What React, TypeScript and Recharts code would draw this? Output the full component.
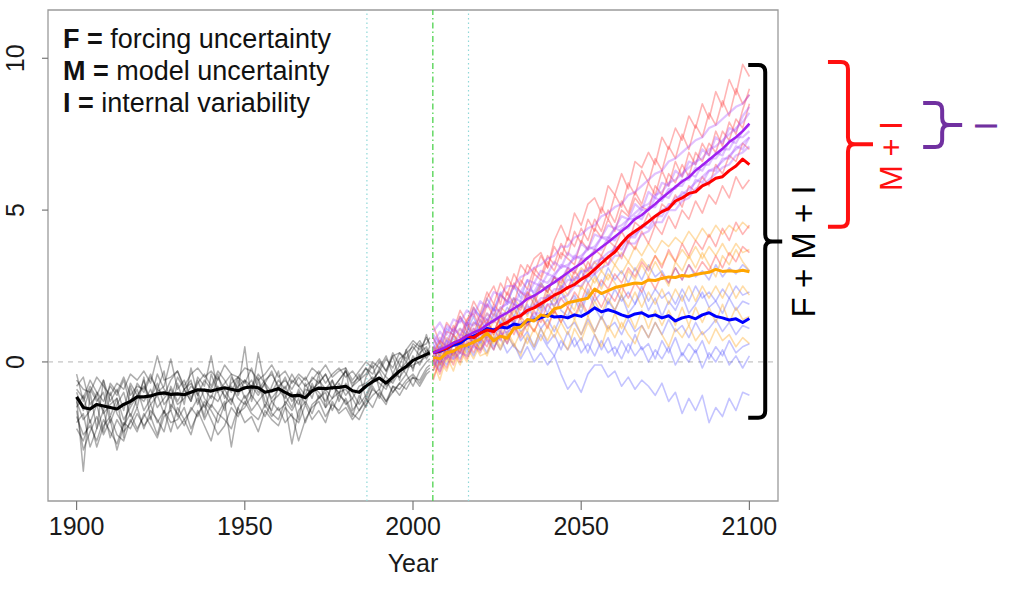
import React from 'react';
import { LineChart, Line, XAxis, YAxis, ReferenceLine, ReferenceArea, ReferenceDot } from 'recharts';

const FONT = '"Liberation Sans", Arial, Helvetica, sans-serif';

// ---------- axes ----------
const X_DOMAIN: [number, number] = [1891.5, 2108.5];
const Y_DOMAIN: [number, number] = [-4.58, 11.59];
const X_TICKS = [1900, 1950, 2000, 2050, 2100];
const Y_TICKS = [0, 5, 10];

// ---------- categories (years) ----------
const HIST_YEARS = [1900, 1902, 1904, 1906, 1908, 1910, 1912, 1914, 1916, 1918, 1920, 1922, 1924, 1926, 1928, 1930, 1932, 1934, 1936, 1938, 1940, 1942, 1944, 1946, 1948, 1950, 1952, 1954, 1956, 1958, 1960, 1962, 1964, 1966, 1968, 1970, 1972, 1974, 1976, 1978, 1980, 1982, 1984, 1986, 1988, 1990, 1992, 1994, 1996, 1998, 2000, 2002, 2004, 2005];
const FUTURE_YEARS = [2006, 2008, 2010, 2012, 2014, 2016, 2018, 2020, 2022, 2024, 2026, 2028, 2030, 2032, 2034, 2036, 2038, 2040, 2042, 2044, 2046, 2048, 2050, 2052, 2054, 2056, 2058, 2060, 2062, 2064, 2066, 2068, 2070, 2072, 2074, 2076, 2078, 2080, 2082, 2084, 2086, 2088, 2090, 2092, 2094, 2096, 2098, 2100];

// ---------- historical ----------
const HIST_MEAN = [-1.15, -1.5, -1.55, -1.4, -1.45, -1.5, -1.55, -1.4, -1.3, -1.15, -1.15, -1.12, -1.05, -1.02, -1.07, -1.05, -1.08, -1.0, -0.92, -0.93, -0.96, -0.9, -0.85, -0.9, -0.95, -0.85, -0.82, -0.85, -1.0, -0.95, -0.88, -1.0, -1.12, -1.1, -1.18, -0.95, -0.86, -0.88, -0.85, -0.84, -0.8, -0.95, -1.0, -0.8, -0.65, -0.53, -0.7, -0.5, -0.3, -0.15, 0.05, 0.15, 0.25, 0.3];
const HIST_1 = [-0.6, -0.9, -1.0, -0.5, -0.8, -1.1, -0.7, -0.9, -0.4, -0.6, -0.3, -0.7, 0.2, -0.6, -0.5, -0.3, -0.8, -0.4, -0.2, -0.5, -0.3, -0.6, -0.1, -0.4, -0.5, -0.2, -0.3, -0.6, -0.4, -0.1, -0.5, -0.3, -0.7, -0.4, -0.6, -0.2, -0.4, -0.1, -0.5, -0.3, -0.2, -0.6, -0.3, 0.0, -0.2, 0.1, -0.3, 0.2, 0.3, 0.1, 0.6, 0.4, 0.8, 0.6];
const HIST_2 = [-1.8, -2.4, -2.1, -2.6, -1.9, -2.3, -2.7, -2.0, -2.2, -1.7, -2.1, -1.8, -2.4, -1.6, -2.0, -1.9, -1.5, -2.2, -1.7, -1.4, -1.9, -2.4, -2.1, -1.5, -1.8, -1.3, -1.7, -1.9, -1.4, -1.8, -1.5, -2.0, -1.7, -2.6, -1.9, -1.5, -1.3, -1.8, -1.4, -1.6, -1.2, -1.7, -1.9, -1.4, -1.1, -0.9, -1.3, -1.0, -0.7, -0.9, -0.5, -0.6, -0.2, -0.1];
const HIST_3 = [-1.2, -3.6, -1.0, -2.2, -0.6, -1.8, -1.2, -2.5, -0.8, -1.5, -0.5, -1.9, -0.9, -0.3, -1.6, -0.7, -1.4, -0.2, -1.1, -1.8, -0.4, -1.0, -1.6, -0.5, -0.9, 0.5, -1.3, -0.6, -1.5, -0.8, -0.3, -1.4, -1.0, -1.9, -0.7, -1.2, -0.4, -1.5, -0.6, -1.1, -0.2, -1.6, -1.3, -0.5, -0.1, -0.9, -0.4, 0.2, -0.6, 0.4, -0.3, 0.6, 0.1, 0.3];
const HIST_4 = [-1.5, -1.1, -2.0, -1.4, -2.3, -1.0, -1.7, -2.1, -1.3, -0.9, -1.6, -1.2, -0.7, -1.4, -1.1, -1.8, -0.9, -1.3, -0.6, -1.2, -1.5, -0.8, -1.1, -1.4, -0.6, -1.2, -0.9, -0.5, -1.3, -1.6, -0.8, -1.1, -1.5, -0.9, -1.4, -0.7, -1.2, -0.9, -0.6, -1.3, -0.7, -1.0, -1.4, -1.1, -0.6, -0.3, -0.8, -0.6, -0.1, -0.4, 0.2, -0.1, 0.4, 0.3];
const HIST_5 = [-0.4, -1.3, -0.8, -1.2, -1.6, -0.7, -1.0, -0.5, -1.1, -0.8, -0.9, -0.4, -1.0, -0.8, 0.1, -0.9, -0.6, -1.2, -0.7, -0.4, -0.8, -0.3, -0.6, -1.0, -0.5, -0.7, -0.2, -0.9, -0.6, -0.4, -0.8, -0.6, -0.9, -0.5, -0.8, -0.6, -0.3, -0.7, -0.4, -0.2, -0.5, -0.3, -0.6, -0.4, 0.0, -0.2, 0.2, -0.4, 0.1, 0.3, 0.5, 0.2, 0.9, 0.5];
const HIST_6 = [-2.0, -1.7, -2.8, -2.2, -1.6, -2.5, -1.9, -2.3, -2.0, -1.5, -2.2, -1.6, -1.9, -2.3, -1.4, -1.7, -2.1, -1.5, -1.8, -1.3, -1.6, -2.0, -1.4, -1.2, -1.7, -1.5, -1.1, -1.4, -1.8, -1.3, -1.6, -1.4, -2.7, -1.6, -1.3, -1.7, -1.1, -1.5, -1.2, -1.0, -1.4, -1.2, -1.6, -1.3, -0.9, -1.1, -1.4, -0.8, -0.9, -0.6, -0.4, -0.7, -0.3, -0.2];
const HIST_7 = [-1.0, -1.6, -0.9, -1.3, -1.0, -2.0, -1.4, -1.0, -1.8, -1.2, -0.6, -1.4, -1.1, -1.7, -0.8, -1.3, -0.9, -0.6, -1.4, -0.9, -1.2, -0.5, -0.9, -1.3, -0.8, -0.6, -1.1, 0.3, -0.8, -1.2, -0.9, -0.5, -1.1, -1.4, -0.9, -1.0, -0.6, -0.9, -1.2, -0.7, -1.1, -0.8, -0.4, -1.2, -0.7, -0.2, -0.5, -0.7, -0.3, 0.0, -0.2, 0.3, 0.5, 0.2];
const HIST_8 = [-1.6, -2.9, -2.3, -1.8, -2.4, -1.9, -2.9, -2.1, -1.7, -2.2, -1.8, -1.4, -2.0, -1.6, -2.3, -1.5, -1.9, -1.6, -1.2, -1.9, -1.4, -1.7, -1.3, -2.8, -1.5, -1.1, -1.6, -1.3, -1.0, -1.7, -1.9, -1.3, -1.6, -1.2, -2.0, -1.4, -1.2, -1.0, -1.6, -1.1, -1.3, -1.8, -1.1, -1.5, -0.8, -1.2, -0.6, -1.0, -0.7, -0.4, -0.8, -0.3, 0.0, 0.1];
const HIST_9 = [-0.8, -0.5, -1.4, -1.1, -0.6, -1.3, -0.9, -1.6, -0.7, -1.1, -0.8, -1.2, -0.4, -0.9, -1.2, -0.5, -0.9, -1.3, -0.5, -0.8, 0.2, -1.0, -0.7, -0.4, -1.1, -0.6, -0.8, -0.4, -0.7, -1.0, -0.6, -0.9, -0.4, -0.8, -1.1, -0.5, -0.7, -0.4, -0.9, -0.6, -0.3, -0.7, -0.5, -0.2, -0.6, -0.3, 0.1, -0.2, 0.3, 0.0, 0.4, 0.7, 0.3, 0.5];
const HIST_10 = [-1.3, -1.9, -1.6, -1.0, -1.7, -1.4, -1.2, -1.9, -1.5, -1.1, -1.3, -0.9, -1.5, -1.2, -0.9, -1.4, -1.2, -0.8, -1.0, -1.5, -1.1, -1.3, -0.9, -0.8, -1.2, -1.4, -0.8, -1.1, -0.7, -1.3, -1.1, -0.8, -1.3, -1.0, -1.2, -0.8, -1.0, -1.3, -0.8, -1.0, -0.9, -1.2, -0.8, -0.7, -0.5, -0.7, -0.9, -0.4, -0.5, -0.2, -0.1, 0.0, 0.2, 0.4];
const HIST_11 = [-2.2, -2.6, -1.9, -2.8, -2.1, -1.8, -2.4, -2.6, -1.9, -2.3, -1.7, -2.1, -2.5, -1.8, -1.6, -2.2, -1.9, -2.4, -1.6, -2.1, -2.6, -1.7, -1.9, -2.2, -1.5, -2.0, -1.8, -2.3, -1.6, -1.9, -2.1, -1.5, -1.8, -2.0, -1.4, -1.9, -1.6, -2.0, -1.3, -1.7, -1.5, -1.9, -1.6, -1.2, -1.5, -1.0, -1.3, -0.8, -1.1, -0.7, -0.5, -0.8, -0.4, -0.3];
const HIST_12 = [-0.9, -1.2, -0.6, -1.0, -1.3, -0.8, -1.1, -0.6, -1.4, -0.7, -1.0, -0.5, -0.9, -1.1, -0.6, -0.3, -0.9, -0.7, -1.1, -0.6, -0.9, -0.4, -1.2, -0.7, -0.5, -0.9, -0.6, -1.0, -0.7, -0.3, -0.9, -1.2, -0.6, -0.8, -0.5, -0.9, -0.7, -0.4, -0.9, -0.6, -0.3, -0.8, -0.6, -0.2, -0.4, 0.0, -0.3, 0.3, -0.1, 0.4, 0.7, 0.5, 0.6, 0.8];
const HIST_MEMBERS = [HIST_1, HIST_2, HIST_3, HIST_4, HIST_5, HIST_6, HIST_7, HIST_8, HIST_9, HIST_10, HIST_11, HIST_12];

// ---------- projections: ensemble means ----------
const PURPLE_MEAN = [0.30, 0.40, 0.50, 0.62, 0.72, 0.85, 0.97, 1.06, 1.22, 1.36, 1.50, 1.62, 1.76, 1.90, 2.08, 2.18, 2.32, 2.48, 2.62, 2.78, 2.94, 3.10, 3.24, 3.44, 3.60, 3.78, 3.94, 4.12, 4.30, 4.48, 4.70, 4.84, 5.02, 5.20, 5.40, 5.58, 5.76, 5.94, 6.08, 6.30, 6.48, 6.66, 6.84, 7.02, 7.24, 7.40, 7.60, 7.85];
const RED_MEAN = [0.30, 0.38, 0.45, 0.62, 0.70, 0.85, 0.80, 0.95, 1.05, 1.00, 1.20, 1.30, 1.45, 1.52, 1.70, 1.78, 1.92, 2.05, 2.20, 2.30, 2.45, 2.55, 2.72, 2.85, 3.05, 3.25, 3.45, 3.62, 3.90, 4.15, 4.30, 4.45, 4.62, 4.80, 4.95, 5.05, 5.30, 5.40, 5.55, 5.60, 5.80, 5.90, 6.05, 6.10, 6.30, 6.45, 6.68, 6.50];
const ORANGE_MEAN = [0.15, 0.10, 0.30, 0.35, 0.50, 0.55, 0.65, 0.75, 0.95, 0.70, 0.85, 0.78, 1.10, 1.15, 1.40, 1.35, 1.55, 1.50, 1.75, 1.80, 1.95, 2.00, 2.05, 2.10, 2.40, 2.25, 2.35, 2.45, 2.50, 2.55, 2.60, 2.58, 2.70, 2.68, 2.75, 2.80, 2.78, 2.85, 2.82, 2.88, 2.92, 2.95, 3.05, 2.98, 3.00, 2.98, 3.02, 2.97];
const BLUE_MEAN = [0.30, 0.35, 0.45, 0.55, 0.62, 0.78, 0.85, 0.95, 1.10, 1.05, 1.15, 1.12, 1.25, 1.20, 1.35, 1.38, 1.45, 1.55, 1.48, 1.50, 1.45, 1.55, 1.50, 1.62, 1.78, 1.65, 1.72, 1.65, 1.55, 1.48, 1.58, 1.62, 1.50, 1.55, 1.45, 1.52, 1.35, 1.45, 1.50, 1.42, 1.55, 1.62, 1.50, 1.45, 1.38, 1.42, 1.30, 1.43];

// ---------- projections: ensemble members ----------
const RED_1 = [0.8, 0.3, 1.0, 0.9, 1.5, 1.0, 1.8, 1.3, 2.1, 2.5, 1.9, 2.8, 2.4, 3.2, 2.9, 3.4, 3.6, 3.1, 4.0, 4.5, 4.0, 4.9, 4.5, 5.2, 5.4, 4.9, 5.8, 5.5, 6.2, 5.7, 6.6, 6.4, 6.9, 6.5, 7.4, 7.0, 7.7, 7.3, 8.1, 7.7, 8.5, 8.0, 8.9, 8.4, 9.3, 8.8, 9.8, 9.4];
const RED_2 = [0.2, 0.7, 0.5, 1.2, 0.8, 1.4, 1.6, 1.1, 1.9, 1.5, 2.2, 2.0, 2.6, 2.3, 2.1, 2.9, 2.7, 3.3, 3.0, 3.6, 3.4, 3.2, 4.0, 3.7, 4.4, 4.1, 4.7, 4.3, 5.0, 4.8, 5.4, 5.1, 5.0, 5.8, 5.5, 6.2, 5.9, 6.5, 6.1, 6.9, 6.6, 7.2, 6.9, 7.6, 7.3, 8.0, 7.7, 8.5];
const RED_3 = [-0.3, 0.4, 0.1, 0.6, 0.3, 0.9, 0.6, 1.2, 1.4, 0.9, 1.6, 1.3, 1.9, 1.7, 2.3, 1.9, 2.5, 2.3, 2.8, 2.6, 3.1, 2.9, 3.4, 3.0, 3.7, 3.5, 4.0, 3.8, 4.3, 3.9, 4.6, 4.4, 4.9, 4.5, 5.2, 5.0, 5.5, 5.1, 5.8, 5.6, 6.1, 5.8, 6.5, 6.2, 6.8, 6.6, 7.2, 7.0];
const RED_4 = [0.5, -0.1, 0.6, 0.2, 0.8, 0.5, 1.1, 0.7, 1.3, 1.0, 1.5, 1.2, 1.8, 1.4, 2.0, 2.2, 1.8, 2.5, 2.2, 2.8, 2.4, 3.0, 2.7, 3.3, 2.9, 3.5, 3.2, 3.8, 3.4, 4.0, 3.7, 4.3, 3.9, 4.5, 4.2, 4.8, 4.4, 5.0, 4.7, 5.3, 4.9, 5.5, 5.2, 5.8, 5.4, 6.1, 5.7, 6.0];
const RED_5 = [-0.6, 0.1, -0.2, 0.4, 0.0, 0.7, 0.3, 0.8, 0.5, 1.1, 0.7, 1.3, 0.9, 1.5, 1.2, 1.7, 1.3, 1.9, 1.6, 2.1, 1.8, 2.3, 2.0, 2.6, 2.2, 2.7, 2.4, 2.9, 2.6, 3.1, 2.8, 3.3, 3.0, 3.5, 3.1, 3.7, 3.3, 3.9, 3.5, 4.0, 3.7, 4.2, 3.8, 4.4, 4.0, 4.6, 4.2, 4.5];
const RED_6 = [0.1, -0.4, 0.3, -0.1, 0.5, 0.1, 0.6, 0.3, 0.8, 0.4, 1.0, 0.6, 1.2, 0.8, 1.3, 1.0, 1.5, 1.1, 1.7, 1.3, 1.8, 1.5, 2.0, 1.6, 2.2, 1.8, 2.3, 2.0, 2.5, 2.1, 2.6, 2.3, 2.8, 2.4, 2.9, 2.6, 3.1, 2.7, 3.2, 2.9, 3.3, 3.0, 3.5, 3.1, 3.6, 3.3, 3.8, 3.6];
const RED_7 = [1.2, 0.6, 1.3, 1.0, 1.7, 1.3, 2.0, 1.6, 2.3, 1.9, 2.6, 2.2, 2.9, 2.5, 3.2, 2.9, 3.5, 3.1, 3.8, 3.4, 4.1, 3.8, 4.4, 4.0, 4.7, 4.3, 5.0, 4.6, 5.3, 4.9, 5.6, 5.2, 5.9, 5.5, 6.3, 5.8, 6.6, 6.1, 6.9, 6.5, 7.2, 6.8, 7.6, 7.1, 7.9, 7.5, 8.3, 9.0];
const RED_8 = [0.0, 0.5, 0.3, 0.9, 0.6, 1.3, 0.9, 1.6, 1.2, 1.9, 1.6, 2.3, 1.9, 2.7, 2.4, 3.1, 2.8, 3.5, 3.2, 3.9, 3.5, 4.3, 3.9, 4.7, 4.3, 5.1, 4.7, 5.5, 5.1, 5.9, 5.5, 6.3, 5.9, 6.7, 6.3, 7.1, 6.7, 7.5, 7.0, 7.8, 7.4, 8.2, 7.8, 8.6, 8.1, 9.0, 8.5, 8.8];
const RED_MEMBERS = [RED_1, RED_2, RED_3, RED_4, RED_5, RED_6, RED_7, RED_8];

const PURPLE_1 = [0.9, 0.6, 1.2, 1.0, 1.4, 1.2, 1.7, 1.5, 1.9, 1.7, 2.2, 2.0, 2.5, 2.3, 2.7, 2.6, 3.0, 2.9, 3.3, 3.1, 3.6, 3.4, 3.9, 3.7, 4.2, 4.1, 4.5, 4.4, 4.8, 4.7, 5.2, 5.0, 5.6, 5.4, 5.9, 5.8, 6.3, 6.1, 6.6, 6.5, 7.0, 6.8, 7.4, 7.2, 7.7, 7.6, 8.1, 8.4];
const PURPLE_2 = [0.4, 0.8, 0.5, 0.9, 1.1, 0.9, 1.3, 1.2, 1.6, 1.4, 1.8, 1.9, 2.1, 2.0, 2.4, 2.3, 2.7, 2.6, 2.9, 3.1, 3.2, 3.4, 3.5, 3.7, 3.8, 4.1, 4.1, 4.4, 4.5, 4.7, 4.9, 5.1, 5.2, 5.5, 5.6, 5.9, 6.0, 6.2, 6.4, 6.6, 6.7, 7.0, 7.1, 7.3, 7.5, 7.7, 7.9, 8.2];
const PURPLE_3 = [-0.1, 0.2, 0.1, 0.4, 0.3, 0.6, 0.5, 0.9, 0.8, 1.1, 1.0, 1.4, 1.3, 1.6, 1.6, 1.9, 1.8, 2.2, 2.1, 2.5, 2.4, 2.8, 2.7, 3.1, 3.1, 3.4, 3.4, 3.8, 3.7, 4.1, 4.1, 4.5, 4.4, 4.8, 4.8, 5.2, 5.2, 5.6, 5.5, 6.0, 5.9, 6.3, 6.3, 6.7, 6.7, 7.1, 7.0, 7.4];
const PURPLE_4 = [0.0, -0.3, 0.2, 0.1, 0.3, 0.2, 0.5, 0.4, 0.7, 0.7, 0.9, 1.0, 1.1, 1.3, 1.3, 1.6, 1.6, 1.9, 1.9, 2.1, 2.2, 2.5, 2.5, 2.8, 2.9, 3.1, 3.2, 3.5, 3.5, 3.9, 3.9, 4.2, 4.3, 4.6, 4.6, 5.0, 5.0, 5.3, 5.4, 5.7, 5.8, 6.0, 6.2, 6.4, 6.5, 6.8, 6.9, 7.1];
const PURPLE_5 = [1.0, 1.3, 0.9, 1.4, 1.3, 1.7, 1.5, 2.0, 1.8, 2.3, 2.2, 2.5, 2.5, 2.8, 2.9, 3.1, 3.2, 3.4, 3.5, 3.8, 3.8, 4.1, 4.2, 4.4, 4.5, 4.8, 4.9, 5.1, 5.2, 5.5, 5.6, 5.8, 6.0, 6.2, 6.3, 6.6, 6.7, 6.9, 7.1, 7.3, 7.4, 7.7, 7.8, 8.0, 8.2, 8.4, 8.5, 8.8];
const PURPLE_6 = [0.5, 0.3, 0.7, 0.6, 0.9, 0.8, 1.1, 1.0, 1.4, 1.3, 1.6, 1.6, 1.9, 1.8, 2.2, 2.1, 2.5, 2.4, 2.8, 2.7, 3.1, 3.0, 3.4, 3.4, 3.7, 3.7, 4.1, 4.0, 4.4, 4.4, 4.8, 4.7, 5.1, 5.1, 5.5, 5.4, 5.8, 5.8, 6.2, 6.1, 6.5, 6.5, 6.9, 6.8, 7.3, 7.2, 7.6, 7.8];
const PURPLE_7 = [0.6, 1.0, 0.7, 1.1, 0.9, 1.3, 1.2, 1.5, 1.4, 1.7, 1.7, 2.0, 1.9, 2.3, 2.2, 2.6, 2.5, 2.9, 2.8, 3.2, 3.1, 3.5, 3.4, 3.8, 3.7, 4.1, 4.0, 4.4, 4.3, 4.7, 4.7, 5.0, 5.0, 5.4, 5.3, 5.7, 5.7, 6.0, 6.0, 6.4, 6.3, 6.7, 6.7, 7.0, 7.0, 7.4, 7.4, 7.6];
const PURPLE_8 = [0.2, 0.0, 0.4, 0.3, 0.6, 0.5, 0.8, 0.7, 1.0, 1.0, 1.2, 1.3, 1.5, 1.5, 1.8, 1.8, 2.1, 2.1, 2.4, 2.4, 2.7, 2.7, 3.0, 3.0, 3.3, 3.4, 3.6, 3.7, 3.9, 4.1, 4.2, 4.4, 4.6, 4.8, 5.0, 5.1, 5.4, 5.5, 5.7, 5.9, 6.1, 6.3, 6.4, 6.6, 6.8, 7.0, 7.2, 7.4];
const PURPLE_MEMBERS = [PURPLE_1, PURPLE_2, PURPLE_3, PURPLE_4, PURPLE_5, PURPLE_6, PURPLE_7, PURPLE_8];

const ORANGE_1 = [0.5, 0.2, 0.8, 0.6, 1.1, 0.8, 1.3, 1.1, 1.6, 1.3, 1.8, 1.6, 2.1, 1.8, 2.3, 2.1, 2.6, 2.3, 2.8, 2.5, 3.0, 2.7, 3.1, 2.9, 3.3, 3.0, 3.5, 3.2, 3.6, 3.3, 3.8, 3.5, 3.9, 3.6, 4.0, 3.8, 4.1, 3.9, 4.3, 4.0, 4.4, 4.1, 4.5, 4.2, 4.5, 4.3, 4.6, 4.4];
const ORANGE_2 = [-0.2, 0.3, 0.0, 0.6, 0.3, 0.9, 0.6, 1.2, 0.8, 1.4, 1.1, 1.6, 1.3, 1.9, 1.5, 2.1, 1.8, 2.3, 2.0, 2.5, 2.2, 2.7, 2.4, 2.9, 2.6, 3.0, 2.7, 3.2, 2.9, 3.3, 3.0, 3.4, 3.1, 3.5, 3.2, 3.6, 3.3, 3.7, 3.4, 3.8, 3.4, 3.8, 3.5, 3.9, 3.5, 3.9, 3.6, 3.7];
const ORANGE_3 = [0.1, -0.3, 0.4, 0.0, 0.6, 0.2, 0.7, 0.4, 0.9, 0.6, 1.1, 0.7, 1.2, 0.9, 1.4, 1.0, 1.5, 1.2, 1.7, 1.3, 1.8, 1.4, 1.9, 1.5, 2.0, 1.6, 2.1, 1.7, 2.2, 1.8, 2.3, 1.8, 2.3, 1.9, 2.4, 1.9, 2.4, 2.0, 2.5, 2.0, 2.5, 2.1, 2.5, 2.1, 2.6, 2.1, 2.5, 2.2];
const ORANGE_4 = [-0.5, 0.0, -0.3, 0.3, -0.1, 0.5, 0.1, 0.6, 0.2, 0.8, 0.4, 0.9, 0.5, 1.0, 0.6, 1.1, 0.7, 1.2, 0.8, 1.3, 0.9, 1.4, 0.9, 1.5, 1.0, 1.5, 1.0, 1.6, 1.1, 1.6, 1.1, 1.7, 1.1, 1.7, 1.2, 1.7, 1.2, 1.8, 1.2, 1.8, 1.3, 1.8, 1.3, 1.9, 1.3, 1.8, 1.4, 1.5];
const ORANGE_5 = [0.3, 0.7, 0.2, 0.9, 0.5, 1.0, 0.7, 0.4, 1.2, 0.9, 1.5, 1.1, 1.7, 1.4, 1.0, 1.9, 1.6, 2.2, 1.8, 2.4, 2.0, 1.7, 2.5, 2.2, 2.8, 2.4, 2.9, 2.6, 2.2, 3.0, 2.7, 3.2, 2.8, 3.3, 2.9, 2.5, 3.3, 3.0, 3.5, 3.1, 3.6, 3.2, 2.8, 3.5, 3.2, 3.7, 3.3, 3.0];
const ORANGE_6 = [0.0, -0.6, 0.2, -0.3, 0.4, 0.0, 0.6, 0.2, 0.3, 0.9, 0.5, 1.0, 0.6, 0.2, 0.9, 0.5, 1.1, 0.7, 1.2, 0.8, 0.4, 1.1, 0.7, 1.3, 0.9, 0.5, 1.2, 0.8, 1.3, 0.9, 0.6, 1.2, 0.8, 1.3, 0.9, 0.5, 1.1, 0.8, 1.2, 0.7, 1.0, 0.6, 1.1, 0.7, 0.9, 0.5, 0.8, 0.6];
const ORANGE_MEMBERS = [ORANGE_1, ORANGE_2, ORANGE_3, ORANGE_4, ORANGE_5, ORANGE_6];

const BLUE_1 = [0.8, 0.4, 1.1, 0.9, 1.5, 1.2, 1.8, 1.5, 2.1, 1.7, 2.3, 1.9, 2.5, 2.1, 2.7, 2.2, 2.6, 2.3, 2.8, 2.4, 2.9, 2.5, 3.0, 2.6, 2.9, 2.5, 3.1, 2.7, 3.0, 2.6, 3.1, 2.7, 3.2, 2.8, 3.0, 2.6, 3.1, 2.7, 3.2, 2.8, 3.0, 2.7, 3.2, 2.8, 3.1, 2.9, 3.2, 3.0];
const BLUE_2 = [0.1, 0.6, 0.3, 0.9, 0.6, 1.2, 0.8, 1.4, 1.0, 1.6, 1.3, 1.8, 1.5, 2.0, 1.6, 2.1, 1.7, 2.2, 1.8, 2.3, 1.9, 2.2, 1.8, 2.4, 2.0, 2.3, 1.9, 2.4, 2.0, 2.3, 1.9, 2.5, 2.0, 2.4, 2.1, 2.3, 1.9, 2.4, 2.0, 2.5, 2.1, 2.3, 2.0, 2.4, 2.1, 2.5, 2.2, 2.3];
const BLUE_3 = [0.4, -0.1, 0.5, 0.2, 0.7, 0.4, 0.9, 0.6, 1.1, 0.7, 1.3, 0.9, 1.4, 1.0, 1.2, 1.5, 1.1, 1.4, 1.0, 1.5, 1.1, 1.3, 0.9, 1.4, 1.0, 1.5, 1.1, 1.3, 0.9, 1.4, 1.0, 1.2, 0.8, 1.3, 0.9, 1.4, 1.0, 1.2, 0.8, 1.3, 0.9, 1.1, 1.4, 1.0, 1.3, 0.9, 1.2, 1.1];
const BLUE_4 = [-0.3, 0.2, -0.1, 0.4, 0.1, 0.6, 0.2, 0.7, 0.3, 0.8, 0.4, 0.9, 0.5, 0.3, 0.8, 0.4, 0.9, 0.5, 0.2, 0.7, 0.4, 0.8, 0.3, 0.6, 0.2, 0.7, 0.3, 0.5, 0.1, 0.6, 0.2, 0.5, 0.0, 0.4, 0.1, 0.5, -0.1, 0.3, 0.0, 0.4, -0.2, 0.3, 0.0, 0.4, -0.1, 0.2, -0.2, 0.2];
const BLUE_5 = [0.2, -0.2, 0.5, 0.1, 0.7, 0.3, 0.8, 0.4, 0.9, 0.5, 0.8, 0.3, 0.6, 0.1, 0.5, 0.0, 0.3, -0.1, 0.2, -0.4, -0.9, -0.6, -1.0, -0.4, -0.1, -0.1, -0.5, -0.3, -0.8, -0.5, -0.9, -0.6, -0.8, -1.1, -0.7, -1.3, -1.0, -1.7, -1.2, -1.6, -1.1, -2.0, -1.5, -1.8, -1.2, -1.6, -1.0, -1.1];
const BLUE_6 = [0.6, 0.2, 0.7, 0.3, 0.5, 1.0, 0.6, 1.1, 0.7, 0.4, 1.0, 0.6, 1.2, 0.7, 1.0, 0.5, 1.1, 0.6, 0.9, 0.4, 1.0, 0.5, 0.8, 0.3, 0.9, 0.4, 0.8, 0.2, 0.7, 0.3, 0.9, 0.4, 0.6, 0.1, 0.7, 0.3, 0.8, 0.2, 0.6, 0.3, 0.7, 0.1, 0.5, 0.2, 0.7, 0.3, 0.5, 0.6];
const BLUE_7 = [0.0, 0.5, 0.2, 0.8, 0.4, 1.0, 1.5, 0.9, 1.3, 1.8, 1.2, 1.6, 2.1, 1.5, 1.9, 1.4, 2.0, 1.6, 2.2, 1.7, 1.5, 2.1, 1.6, 2.3, 1.8, 1.4, 2.0, 1.7, 2.2, 1.6, 1.9, 2.3, 1.7, 2.1, 1.5, 2.0, 1.7, 2.2, 1.6, 1.9, 2.3, 1.8, 2.0, 1.6, 2.1, 1.7, 2.0, 1.9];
const BLUE_MEMBERS = [BLUE_1, BLUE_2, BLUE_3, BLUE_4, BLUE_5, BLUE_6, BLUE_7];

// ---------- reference markers ----------
const VLINES_DOTTED = [1986.3, 2016.5];
const VLINE_DASHDOT = 2005.9;

// uncertainty brackets: (x position, top value, bottom value)
const BRACKETS = [
  { x: 2104.7, top: 9.78, bottom: -1.84, color: '#000000', hook: 17, tip: 17 },
  { x: 2129.3, top: 9.88, bottom: 4.45, color: '#ff1010', hook: 20, tip: 25 },
  { x: 2157.3, top: 8.53, bottom: 7.08, color: '#7030a0', hook: 19, tip: 20 },
];
const BRACKET_LABELS = [
  { text: 'F + M + I', x: 2116.0, y: 3.64, color: '#000000', size: 33 },
  { text: 'M + I', x: 2142.3, y: 6.78, color: '#ff1010', size: 31 },
  { text: 'I', x: 2170.6, y: 7.77, color: '#7030a0', size: 31 },
];

const LEGEND_LINES = [
  { key: 'F', rest: 'forcing uncertainty' },
  { key: 'M', rest: 'model uncertainty' },
  { key: 'I', rest: 'internal variability' },
];

// ---------- build table ----------
type Row = Record<string, number>;
const rows: Row[] = [];
HIST_YEARS.forEach((year, i) => {
  const row: Row = { year, hist_mean: HIST_MEAN[i] };
  HIST_MEMBERS.forEach((m, k) => { row[`hist_${k}`] = m[i]; });
  rows.push(row);
});
FUTURE_YEARS.forEach((year, i) => {
  const row: Row = {
    year,
    red_mean: RED_MEAN[i],
    orange_mean: ORANGE_MEAN[i],
    blue_mean: BLUE_MEAN[i],
    purple_mean: PURPLE_MEAN[i],
  };
  RED_MEMBERS.forEach((m, k) => { row[`red_${k}`] = m[i]; });
  PURPLE_MEMBERS.forEach((m, k) => { row[`purple_${k}`] = m[i]; });
  ORANGE_MEMBERS.forEach((m, k) => { row[`orange_${k}`] = m[i]; });
  BLUE_MEMBERS.forEach((m, k) => { row[`blue_${k}`] = m[i]; });
  rows.push(row);
});

const MEMBER_GROUPS = [
  { key: 'hist', members: HIST_MEMBERS, stroke: 'rgba(0,0,0,0.32)', width: 1.5 },
  { key: 'blue', members: BLUE_MEMBERS, stroke: 'rgba(60,60,255,0.3)', width: 1.6 },
  { key: 'orange', members: ORANGE_MEMBERS, stroke: 'rgba(255,170,40,0.4)', width: 1.6 },
  { key: 'red', members: RED_MEMBERS, stroke: 'rgba(255,60,60,0.38)', width: 1.6 },
  { key: 'purple', members: PURPLE_MEMBERS, stroke: 'rgba(165,70,255,0.33)', width: 2.2 },
];

const series = (dataKey: string, stroke: string, width: number) => (
  <Line
    key={dataKey}
    type="linear"
    dataKey={dataKey}
    stroke={stroke}
    strokeWidth={width}
    strokeLinejoin="round"
    dot={false}
    activeDot={false}
    isAnimationActive={false}
    legendType="none"
  />
);

const XTick = (props: any) => {
  const { x, y, payload } = props;
  return (
    <text x={x} y={y + 23} textAnchor="middle" fontSize={25} fontFamily={FONT} fill="#1a1a1a">
      {payload.value}
    </text>
  );
};

const YTick = (props: any) => {
  const { x, y, payload } = props;
  const bx = x - 16;
  return (
    <text
      x={bx}
      y={y}
      transform={`rotate(-90 ${bx} ${y})`}
      textAnchor="middle"
      fontSize={25}
      fontFamily={FONT}
      fill="#1a1a1a"
    >
      {payload.value}
    </text>
  );
};

const Bracket = (props: any) => {
  const { x1, y1, y2, color, hook, tip } = props;
  const x = x1;
  const top = Math.min(y1, y2);
  const bot = Math.max(y1, y2);
  const mid = (top + bot) / 2;
  const r = Math.min(7, (bot - top) / 5);
  const d =
    `M ${x - hook} ${top} L ${x - r} ${top} Q ${x} ${top} ${x} ${top + r} ` +
    `L ${x} ${mid - r} Q ${x} ${mid} ${x + r} ${mid} L ${x + tip} ${mid} ` +
    `M ${x + r} ${mid} Q ${x} ${mid} ${x} ${mid + r} ` +
    `L ${x} ${bot - r} Q ${x} ${bot} ${x - r} ${bot} L ${x - hook} ${bot}`;
  return <path d={d} fill="none" stroke={color} strokeWidth={4} strokeLinejoin="round" />;
};

export default function App() {
  return (
    <div style={{ position: 'absolute', left: 0, top: 0, width: 1023, height: 593, background: '#fff' }}>
      <LineChart width={1023} height={593} data={rows} margin={{ top: 10, right: 245, bottom: 0, left: 0 }}>
        <XAxis
          type="number"
          dataKey="year"
          domain={X_DOMAIN}
          ticks={X_TICKS}
          allowDataOverflow
          height={92}
          tickSize={9}
          axisLine={false}
          tickLine={{ stroke: '#777', strokeWidth: 1.2 }}
          tick={<XTick />}
        />
        <YAxis
          type="number"
          domain={Y_DOMAIN}
          ticks={Y_TICKS}
          allowDataOverflow
          width={48}
          tickSize={6}
          axisLine={false}
          tickLine={{ stroke: '#777', strokeWidth: 1.2 }}
          tick={<YTick />}
        />
        <ReferenceLine y={0} stroke="#b5b5b5" strokeDasharray="5 5" strokeWidth={1} />
        {VLINES_DOTTED.map((v) => (
          <ReferenceLine key={v} x={v} stroke="#8fd8d8" strokeDasharray="1.5 3" strokeWidth={1.2} />
        ))}
        <ReferenceLine x={VLINE_DASHDOT} stroke="#3fcf3f" strokeDasharray="6 3 1.5 3" strokeWidth={1.2} />

        {MEMBER_GROUPS.flatMap((g) =>
          g.members.map((_, k) => series(`${g.key}_${k}`, g.stroke, g.width))
        )}
        {series('hist_mean', '#000000', 3.2)}
        {series('blue_mean', '#0000ff', 3)}
        {series('orange_mean', '#ffa500', 3)}
        {series('red_mean', '#ff0000', 3)}
        {series('purple_mean', '#a020f0', 2.5)}

        <ReferenceArea
          x1={X_DOMAIN[0]}
          x2={X_DOMAIN[1]}
          y1={Y_DOMAIN[0]}
          y2={Y_DOMAIN[1]}
          fill="none"
          fillOpacity={0}
          stroke="#9a9a9a"
          strokeWidth={1.3}
          ifOverflow="visible"
        />

        {BRACKETS.map((b, i) => (
          <ReferenceLine
            key={`br${i}`}
            segment={[{ x: b.x, y: b.top }, { x: b.x, y: b.bottom }]}
            ifOverflow="visible"
            stroke={b.color}
            shape={(p: any) => <Bracket {...p} color={b.color} hook={b.hook} tip={b.tip} />}
          />
        ))}
        {BRACKET_LABELS.map((l, i) => (
          <ReferenceDot
            key={`bl${i}`}
            x={l.x}
            y={l.y}
            r={0}
            ifOverflow="visible"
            shape={(p: any) => (
              <text
                x={p.cx}
                y={p.cy}
                transform={`rotate(-90 ${p.cx} ${p.cy})`}
                textAnchor="middle"
                dominantBaseline="central"
                fontSize={l.size}
                fontFamily={FONT}
                fill={l.color}
              >
                {l.text}
              </text>
            )}
          />
        ))}
      </LineChart>
      <svg
        width={1023}
        height={593}
        style={{ position: 'absolute', left: 0, top: 0, pointerEvents: 'none' }}
      >
        {LEGEND_LINES.map((l, i) => (
          <text key={l.key} x={63} y={48 + i * 32} fontSize={27} fontFamily={FONT} fill="#111">
            <tspan fontWeight="bold">{l.key} =</tspan>
            <tspan> {l.rest}</tspan>
          </text>
        ))}
        <text x={413} y={572} textAnchor="middle" fontSize={25} fontFamily={FONT} fill="#1a1a1a">
          Year
        </text>
      </svg>
    </div>
  );
}
